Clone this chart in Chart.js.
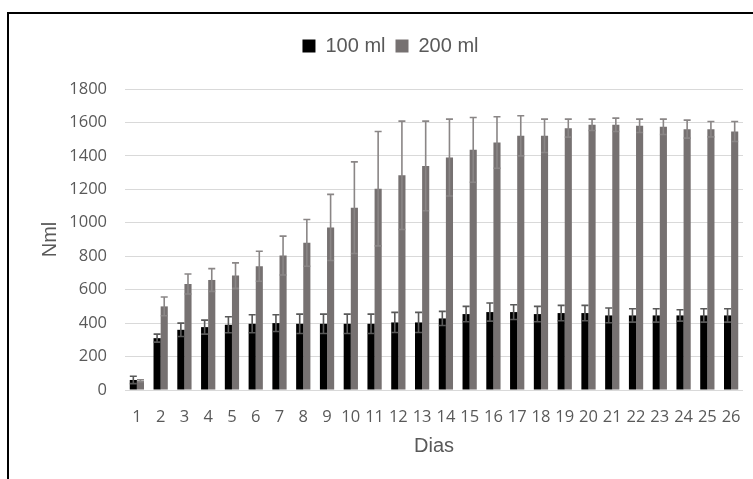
<!DOCTYPE html>
<html>
<head>
<meta charset="utf-8">
<script src="https://cdn.jsdelivr.net/npm/chart.js@4/dist/chart.umd.min.js"></script>
<style>
  body { margin: 0; background: #fff; }
  #frame { position: absolute; left: 7px; top: 12px; width: 744px; height: 480px; border: 2px solid #000; }
  #chart { position: absolute; left: 0; top: 0; }
</style>
</head>
<body>
<div id="frame"></div>
<canvas id="chart" width="753" height="479"></canvas>
<script>
const days = ["1","2","3","4","5","6","7","8","9","10","11","12","13","14","15","16","17","18","19","20","21","22","23","24","25","26"]
const ml100 = [60, 310, 360, 376, 390, 396, 400, 396, 396, 396, 396, 404, 404, 428, 454, 466, 466, 454, 460, 460, 446, 446, 446, 446, 446, 446]
const ml100Err = [22, 24, 40, 42, 48, 54, 50, 58, 58, 58, 58, 60, 60, 42, 46, 54, 44, 46, 46, 46, 44, 40, 40, 34, 40, 40]
const ml200 = [55, 500, 634, 658, 684, 740, 804, 880, 972, 1090, 1204, 1284, 1340, 1390, 1436, 1480, 1520, 1520, 1566, 1586, 1586, 1580, 1574, 1560, 1560, 1546]
const ml200Err = [6, 56, 60, 68, 76, 90, 116, 140, 198, 274, 342, 324, 268, 230, 194, 154, 120, 100, 54, 34, 40, 40, 46, 54, 46, 60]
const yTicks = [0, 200, 400, 600, 800, 1000, 1200, 1400, 1600, 1800]

const errors = [ml100Err, ml200Err]
const errColors = ["#595959", "#8a8686"]

// push the plot down below the legend
const legendSpace = {
  id: "legendSpace",
  beforeInit(chart) {
    const fit = chart.legend.fit
    chart.legend.fit = function () {
      fit.bind(this)()
      this.height += 23
    }
  },
}

const errorBars = {
  id: "errorBars",
  afterDatasetsDraw(chart) {
    const ctx = chart.ctx
    const y = chart.scales.y
    chart.data.datasets.forEach((ds, i) => {
      const meta = chart.getDatasetMeta(i)
      ctx.save()
      ctx.strokeStyle = errColors[i]
      ctx.lineWidth = 1.6
      meta.data.forEach((bar, j) => {
        const v = ds.data[j]
        const e = errors[i][j]
        const top = y.getPixelForValue(v + e)
        const bot = y.getPixelForValue(Math.max(0, v - e))
        const half = 3.5
        ctx.beginPath()
        ctx.moveTo(bar.x, top)
        ctx.lineTo(bar.x, bot)
        ctx.moveTo(bar.x - half, top)
        ctx.lineTo(bar.x + half, top)
        ctx.moveTo(bar.x - half, bot)
        ctx.lineTo(bar.x + half, bot)
        ctx.stroke()
      })
      ctx.restore()
    })
  },
}

const tickFont = { family: "'Open Sans', sans-serif", size: 16.5 }
const titleFont = { family: "'Liberation Sans', Arial, sans-serif", size: 20 }

new Chart(document.getElementById("chart"), {
  type: "bar",
  data: {
    labels: days,
    datasets: [
      {
        label: "100 ml",
        data: ml100,
        backgroundColor: "#000000",
        barPercentage: 1,
        categoryPercentage: 0.6,
      },
      {
        label: "200 ml",
        data: ml200,
        backgroundColor: "#767171",
        barPercentage: 1,
        categoryPercentage: 0.6,
      },
    ],
  },
  options: {
    responsive: false,
    animation: false,
    layout: { padding: { left: 38, right: 10, top: 26, bottom: 0 } },
    plugins: {
      tooltip: { enabled: false },
      legend: {
        position: "top",
        labels: {
          boxWidth: 13,
          boxHeight: 13,
          padding: 10,
          color: "#595959",
          font: titleFont,
        },
      },
    },
    scales: {
      x: {
        grid: { display: false },
        border: { display: false },
        ticks: { color: "#595959", font: tickFont, padding: 9, maxRotation: 0, autoSkip: false },
        title: { display: true, text: "Dias", color: "#595959", font: titleFont, padding: { top: 0, bottom: 21 } },
        afterFit(scale) {
          scale.height = 89
        },
      },
      y: {
        min: 0,
        max: 1800,
        afterBuildTicks(scale) {
          scale.ticks = yTicks.map((v) => ({ value: v }))
        },
        grid: { color: "#d9d9d9", lineWidth: 1, drawTicks: false },
        border: { display: false },
        ticks: { color: "#595959", font: tickFont, padding: 18, callback: (v) => String(v) },
        title: { display: true, text: "Nml", color: "#595959", font: titleFont, padding: { top: 0, bottom: 0 } },
        afterFit(scale) {
          scale.width = 87
        },
      },
    },
  },
  plugins: [legendSpace, errorBars],
})
</script>
</body>
</html>
